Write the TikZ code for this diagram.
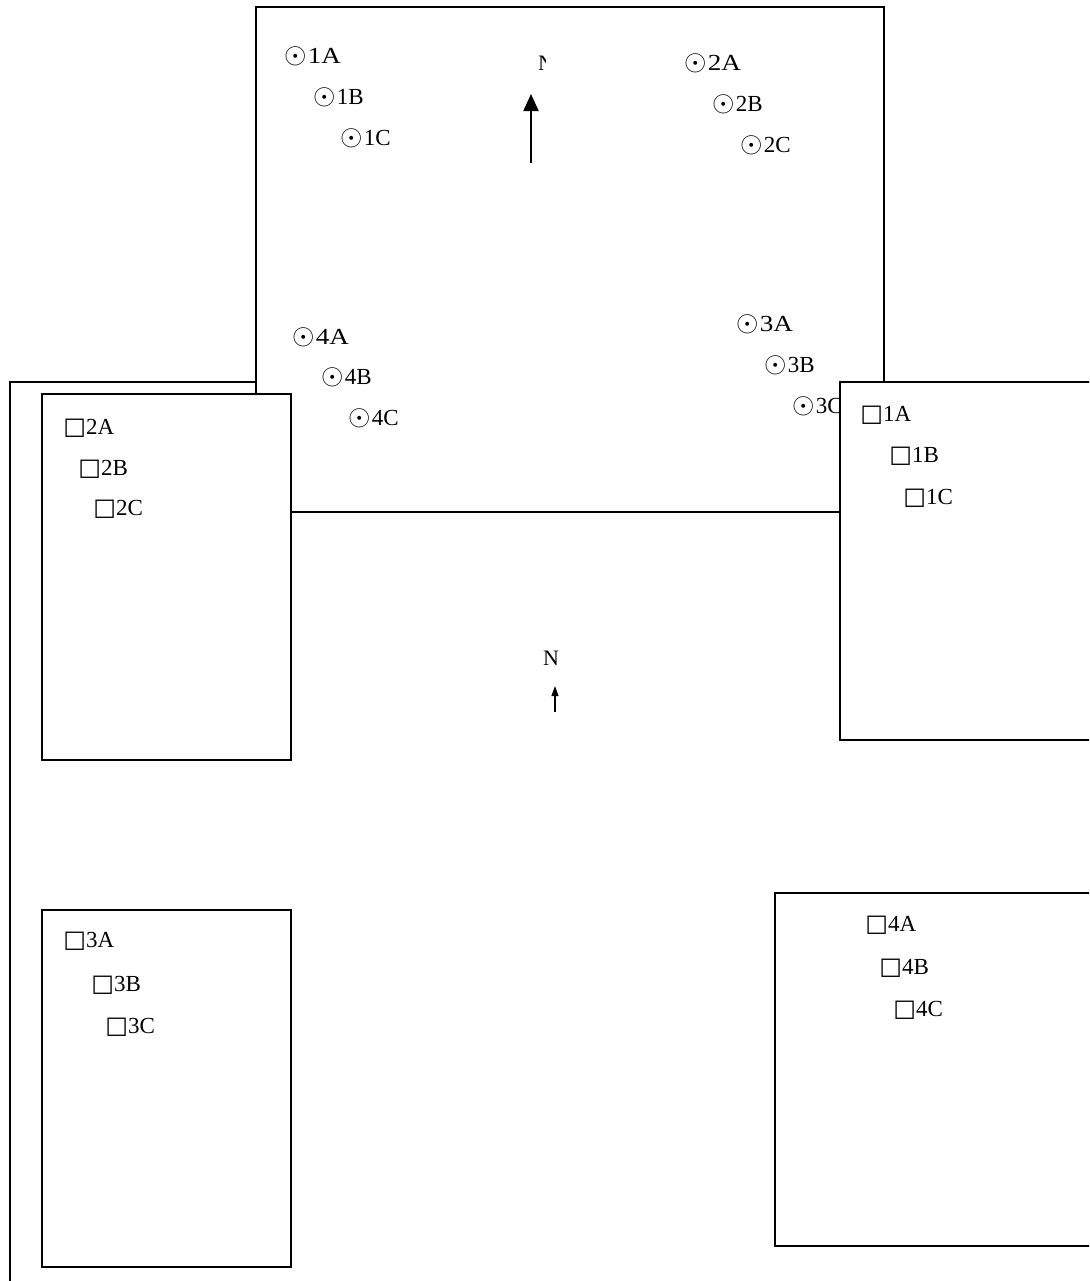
\documentclass[tikz,border=0pt]{standalone}
\usepackage{fontspec}
\setmainfont{Liberation Serif}
\newfontfamily\symfont{DejaVu Sans}
\newfontfamily\widefont[FakeStretch=1.18]{Liberation Serif}
\usetikzlibrary{arrows.meta}
\newcommand{\spot}{{\fontsize{15pt}{15pt}\selectfont$\odot$}\kern0.5pt}
\newcommand{\plot}{{\fontsize{12pt}{12pt}\symfont\char"25A1}}

\begin{document}
\begin{tikzpicture}[
  x=0.5pt, y=-0.5pt,
  frame/.style={draw, line width=1pt, fill=white},
  lbl/.style={anchor=west, inner sep=0pt, font=\fontsize{11.5pt}{12pt}\selectfont},
  lblw/.style={lbl, font=\fontsize{11.5pt}{12pt}\widefont},
  north/.style={inner sep=0pt, font=\fontsize{11pt}{12pt}\selectfont}
]
\useasboundingbox (0,0) rectangle (1089,1281);
\clip (0,0) rectangle (1089,1281);

% outer site boundary
\draw[line width=1pt] (10,1300) -- (10,382) -- (1100,382);

% sampling area (top)
\draw[frame] (256,7) rectangle (884,512);
\node[lblw] (p1A) at (284,56) {\spot1A};
\node[lbl] (p1B) at (313,97) {\spot1B};
\node[lbl] (p1C) at (340,138) {\spot1C};
\node[lblw] (p2A) at (684,63) {\spot2A};
\node[lbl] (p2B) at (712,104) {\spot2B};
\node[lbl] (p2C) at (740,145) {\spot2C};
\node[lblw] (p4A) at (292,337) {\spot4A};
\node[lbl] (p4B) at (321,377) {\spot4B};
\node[lbl] (p4C) at (348,418) {\spot4C};
\node[lblw] (p3A) at (736,324) {\spot3A};
\node[lbl] (p3B) at (764,365) {\spot3B};
\node[lbl] (p3C) at (792,406) {\spot3C};
\begin{scope}
  \clip (520,40) rectangle (545,90);
  \node[north] (n1) at (546,63) {N};
\end{scope}
\coordinate (a1s) at (531,163);
\coordinate (a1e) at (531,94);
\draw[line width=1pt, -{Triangle[width=7.5pt, length=8.5pt]}] (a1s) -- (a1e);

% plots
\draw[frame] (42,394) rectangle (291,760);
\node[lbl] (s2A) at (63,428) {\plot2A};
\node[lbl] (s2B) at (78,469) {\plot2B};
\node[lbl] (s2C) at (93,509) {\plot2C};

\draw[frame] (840,382) rectangle (1100,740);
\node[lbl] (s1A) at (860,415) {\plot1A};
\node[lbl] (s1B) at (889,456) {\plot1B};
\node[lbl] (s1C) at (903,498) {\plot1C};

\draw[frame] (42,910) rectangle (291,1267);
\node[lbl] (s3A) at (63,941) {\plot3A};
\node[lbl] (s3B) at (91,985) {\plot3B};
\node[lbl] (s3C) at (105,1027) {\plot3C};

\draw[frame] (775,893) rectangle (1100,1246);
\node[lbl] (s4A) at (865,925) {\plot4A};
\node[lbl] (s4B) at (879,968) {\plot4B};
\node[lbl] (s4C) at (893,1010) {\plot4C};

% north arrow (site)
\node[north] (n2) at (551,658) {N};
\coordinate (a2s) at (555,712);
\coordinate (a2e) at (555,686);
\draw[line width=0.6pt, -{Triangle[width=3.5pt, length=5pt]}] (a2s) -- (a2e);
\end{tikzpicture}
\end{document}
